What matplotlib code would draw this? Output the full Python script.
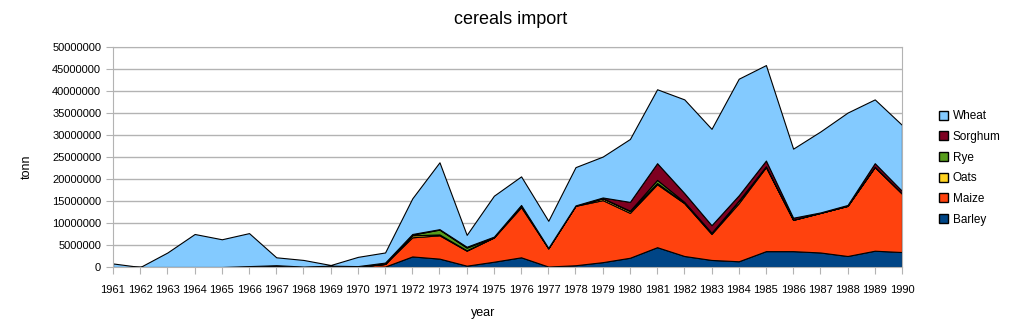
import numpy as np
import matplotlib
matplotlib.use("Agg")
import matplotlib.pyplot as plt
from matplotlib.patches import Patch

plt.rcParams['font.family'] = ['Liberation Sans', 'DejaVu Sans']

years = list(range(1961, 1991))
# values in million tonnes
barley = [0, 0, 0, 0, 0, 0, 0, 0, 0, 0, 0.1, 2.4, 1.9, 0.3, 1.2, 2.2, 0.1, 0.4, 1.1, 2.1,
          4.5, 2.5, 1.6, 1.3, 3.6, 3.6, 3.3, 2.5, 3.7, 3.4]
maize = [0, 0, 0, 0, 0, 0.1, 0.4, 0.1, 0.3, 0.1, 0.6, 4.35, 5.3, 3.4, 5.5, 11.4, 4.15, 13.5, 14.1, 10.2,
         14.3, 12.0, 5.9, 13.2, 19.1, 7.1, 9.0, 11.4, 19.0, 13.3]
oats = [0, 0, 0, 0, 0, 0, 0, 0, 0, 0, 0, 0.45, 0.2, 0.1, 0.05, 0.4, 0, 0.05, 0.4, 0.4,
        0.3, 0.1, 0.2, 0.5, 0.1, 0.05, 0, 0, 0.1, 0]
rye = [0, 0, 0, 0, 0, 0, 0, 0, 0, 0, 0, 0.15, 1.1, 0.6, 0.05, 0.05, 0, 0, 0.05, 0.1,
       0.7, 0.2, 0.1, 0.1, 0.1, 0, 0, 0, 0, 0]
sorghum = [0, 0, 0, 0, 0, 0.1, 0, 0, 0, 0.1, 0.3, 0.15, 0.1, 0.2, 0.1, 0.05, 0.1, 0.05, 0.15, 2.0,
           3.8, 2.0, 1.7, 1.2, 1.3, 0.45, 0.1, 0.2, 0.8, 0.6]
wheat = [0.8, 0, 3.3, 7.5, 6.3, 7.5, 1.8, 1.5, 0.15, 2.1, 2.3, 8.1, 15.2, 2.7, 9.3, 6.5, 6.15, 8.7, 9.3, 14.3,
         16.8, 21.3, 21.9, 26.5, 21.7, 15.7, 18.4, 21.0, 14.5, 15.0]

names = ['Barley', 'Maize', 'Oats', 'Rye', 'Sorghum', 'Wheat']
colors = ['#004586', '#ff420e', '#ffd320', '#579d1c', '#7e0021', '#83caff']
series = [barley, maize, oats, rye, sorghum, wheat]

fig = plt.figure(figsize=(10.21, 3.36), dpi=100)
ax = fig.add_axes([0.1107, 0.2054, 0.7727, 0.6546])

x = np.array(years)
base = np.zeros(len(years))
for vals, c in zip(series, colors):
    top = base + np.array(vals) * 1e6
    ax.fill_between(x, base, top, facecolor=c, edgecolor='black', linewidth=0.8)
    base = top

ax.set_xlim(1961, 1990)
ax.set_ylim(0, 50000000)
ax.set_yticks(np.arange(0, 50000001, 5000000))
ax.set_yticklabels([str(v) for v in range(0, 50000001, 5000000)])
ax.set_xticks(years)
ax.set_xticklabels([str(y) for y in years])
ax.grid(axis='y', color='#b3b3b3', linewidth=1)
ax.set_axisbelow(True)
for s in ax.spines.values():
    s.set_color('#b3b3b3')
ax.tick_params(colors='#b3b3b3', labelcolor='black', labelsize=8, length=5)
ax.tick_params(axis='x', pad=8)

fig.text(0.5, 1 - 20 / 336, 'cereals import', fontsize=13, ha='center', va='center')
fig.text(483 / 1021, 1 - 313 / 336, 'year', fontsize=9, ha='center', va='center')
fig.text(27 / 1021, 1 - 167 / 336, 'tonn', fontsize=9, rotation=90, ha='center', va='center')

handles = [Patch(facecolor=c, edgecolor='black', label=n) for n, c in zip(names, colors)]
fig.legend(handles=handles[::-1], loc='center left', bbox_to_anchor=(0.909, 0.5), frameon=False,
           fontsize=8.5, handlelength=0.8, handleheight=0.8, handletextpad=0.4, labelspacing=0.73)

fig.savefig('out.png', dpi=100)
